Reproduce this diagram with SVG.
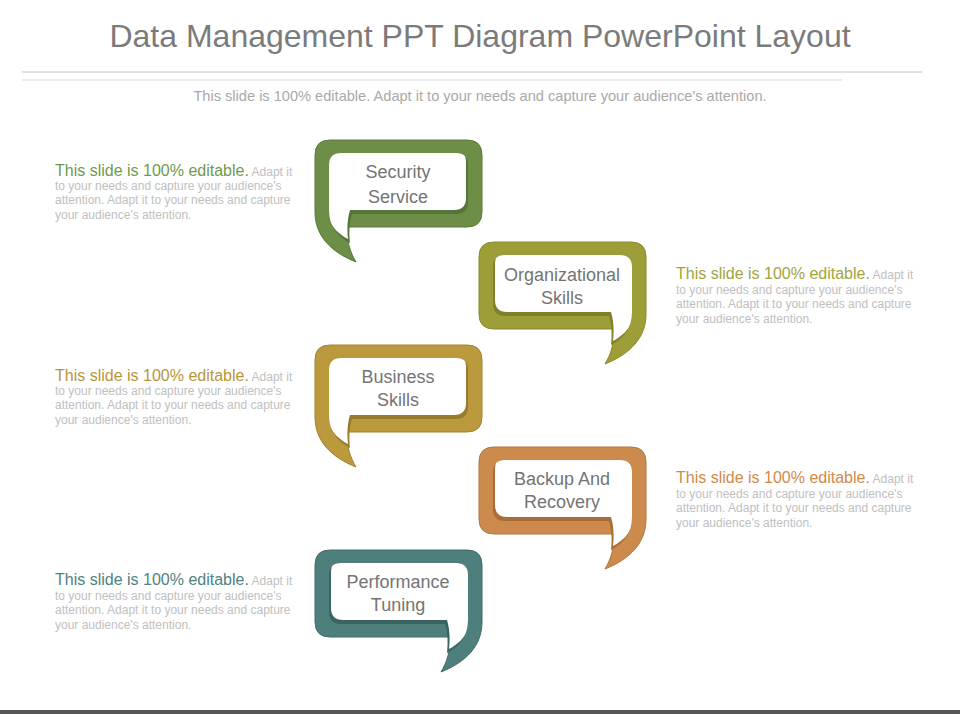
<svg xmlns="http://www.w3.org/2000/svg" width="960" height="720" viewBox="0 0 960 720">
<style>
text{font-family:"Liberation Sans",Arial,sans-serif}
.title{font-size:32px;fill:#7b7b7b}
.sub{font-size:14.6px;fill:#a9a9a9}
.lbl{font-size:18px;fill:#747474;text-anchor:middle}
.head{font-size:16px}
.body{font-size:12px;fill:#c0c0c0}
.white{fill:#ffffff}
</style>
<defs>
<path id="outer" d="M15,0 H152 Q167,0 167,15 V72 Q167,87 152,87 H33 C31,100 35,112 41,122 C16,112 0,96 0,72 V15 Q0,0 15,0 Z"/>
<path id="recess" d="M26,13 H141 Q153,13 153,25 V62 Q153,74 141,74 H37 C34,84 34,94 35,103 C22,96 14,86 14,70 V25 Q14,13 26,13 Z"/>
<clipPath id="rc"><use href="#recess"/></clipPath>
</defs>

<text class="title" x="480" y="47" text-anchor="middle">Data Management PPT Diagram PowerPoint Layout</text>
<line x1="22" y1="72" x2="922" y2="72" stroke="#c4c4c4" stroke-width="1"/>
<line x1="22" y1="80" x2="842" y2="80" stroke="#dcdcdc" stroke-width="1"/>
<text class="sub" x="480" y="101" text-anchor="middle">This slide is 100% editable. Adapt it to your needs and capture your audience's attention.</text>

<g id="node-security">
<g transform="translate(315,140)">
<use href="#outer" fill="#6d8e47" stroke="#5b7a3a" stroke-width="1"/>
<use href="#recess" fill="#56753a"/>
<g clip-path="url(#rc)"><use href="#recess" class="white" transform="translate(-2,-4)"/></g>
</g>
<text class="lbl" x="398" y="178">Security</text>
<text class="lbl" x="398" y="203">Service</text>
</g>

<g id="node-organizational">
<g transform="translate(646,242) scale(-1,1)">
<use href="#outer" fill="#9e9e38" stroke="#88882c" stroke-width="1"/>
<use href="#recess" fill="#80802a"/>
<g clip-path="url(#rc)"><use href="#recess" class="white" transform="translate(-2,-4)"/></g>
</g>
<text class="lbl" x="562" y="281">Organizational</text>
<text class="lbl" x="562" y="304">Skills</text>
</g>

<g id="node-business">
<g transform="translate(315,345)">
<use href="#outer" fill="#ba9a3c" stroke="#a0832e" stroke-width="1"/>
<use href="#recess" fill="#977c2c"/>
<g clip-path="url(#rc)"><use href="#recess" class="white" transform="translate(-2,-4)"/></g>
</g>
<text class="lbl" x="398" y="383">Business</text>
<text class="lbl" x="398" y="406">Skills</text>
</g>

<g id="node-backup">
<g transform="translate(646,447) scale(-1,1)">
<use href="#outer" fill="#cc8a4c" stroke="#b4743a" stroke-width="1"/>
<use href="#recess" fill="#a86d38"/>
<g clip-path="url(#rc)"><use href="#recess" class="white" transform="translate(-2,-4)"/></g>
</g>
<text class="lbl" x="562" y="485">Backup And</text>
<text class="lbl" x="562" y="508">Recovery</text>
</g>

<g id="node-performance">
<g transform="translate(482,550) scale(-1,1)">
<use href="#outer" fill="#4f7f7c" stroke="#406c69" stroke-width="1"/>
<use href="#recess" fill="#3b6361"/>
<g clip-path="url(#rc)"><use href="#recess" class="white" transform="translate(-2,-4)"/></g>
</g>
<text class="lbl" x="398" y="588">Performance</text>
<text class="lbl" x="398" y="611">Tuning</text>
</g>

<g id="connectors"></g>

<g id="note-1">
<text x="55" y="176"><tspan class="head" fill="#6f9a4a">This slide is 100% editable.</tspan><tspan class="body"> Adapt it</tspan></text>
<text class="body" x="55" y="190">to your needs and capture your audience's</text>
<text class="body" x="55" y="204">attention. Adapt it to your needs and capture</text>
<text class="body" x="55" y="219">your audience's attention.</text>
</g>
<g id="note-2">
<text x="676" y="279"><tspan class="head" fill="#a2a43c">This slide is 100% editable.</tspan><tspan class="body"> Adapt it</tspan></text>
<text class="body" x="676" y="294">to your needs and capture your audience's</text>
<text class="body" x="676" y="308">attention. Adapt it to your needs and capture</text>
<text class="body" x="676" y="323">your audience's attention.</text>
</g>
<g id="note-3">
<text x="55" y="381"><tspan class="head" fill="#b8963a">This slide is 100% editable.</tspan><tspan class="body"> Adapt it</tspan></text>
<text class="body" x="55" y="395">to your needs and capture your audience's</text>
<text class="body" x="55" y="409">attention. Adapt it to your needs and capture</text>
<text class="body" x="55" y="424">your audience's attention.</text>
</g>
<g id="note-4">
<text x="676" y="483"><tspan class="head" fill="#d08a4a">This slide is 100% editable.</tspan><tspan class="body"> Adapt it</tspan></text>
<text class="body" x="676" y="498">to your needs and capture your audience's</text>
<text class="body" x="676" y="512">attention. Adapt it to your needs and capture</text>
<text class="body" x="676" y="527">your audience's attention.</text>
</g>
<g id="note-5">
<text x="55" y="585"><tspan class="head" fill="#4f8282">This slide is 100% editable.</tspan><tspan class="body"> Adapt it</tspan></text>
<text class="body" x="55" y="600">to your needs and capture your audience's</text>
<text class="body" x="55" y="614">attention. Adapt it to your needs and capture</text>
<text class="body" x="55" y="629">your audience's attention.</text>
</g>

<rect x="0" y="710" width="960" height="4" fill="#555555"/>
</svg>
